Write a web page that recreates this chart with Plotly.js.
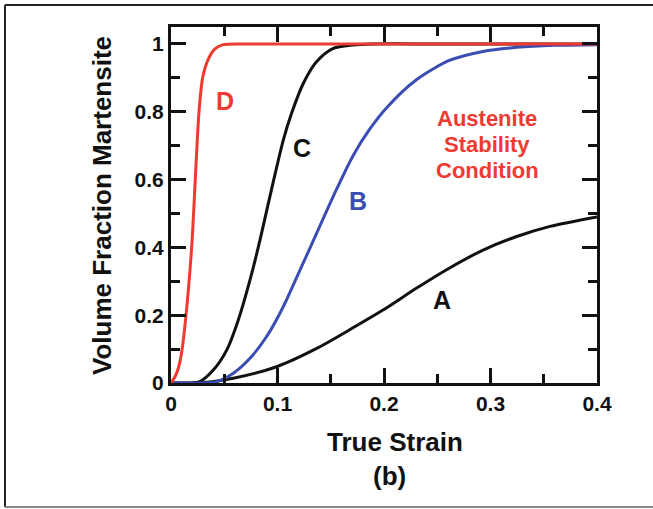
<!DOCTYPE html>
<html>
<head>
<meta charset="utf-8">
<script src="https://cdn.plot.ly/plotly-3.0.1.min.js"></script>
<style>html,body{margin:0;padding:0;background:#fff;}#chart{width:653px;height:509px;}</style>
</head>
<body>
<div id="chart"></div>
<script>
// Curve D (red)
var strainD = [0, 0.004, 0.007, 0.010, 0.0141, 0.0194, 0.0212, 0.0228, 0.0263, 0.0297, 0.0347, 0.041, 0.049, 0.07, 0.1, 0.2, 0.3, 0.4];
var fracD   = [0, 0.02, 0.045, 0.09, 0.2, 0.4, 0.5, 0.6, 0.8, 0.9, 0.953, 0.985, 0.998, 1, 1, 1, 1, 1];
// Curve C (black)
var strainC = [0, 0.015, 0.027, 0.0397, 0.0523, 0.0632, 0.0742, 0.0836, 0.0914, 0.1055, 0.1133, 0.1243, 0.1368, 0.1524, 0.171, 0.19, 0.25, 0.3, 0.4];
var fracC   = [0, 0.0, 0.004, 0.038, 0.097, 0.186, 0.304, 0.422, 0.53, 0.717, 0.796, 0.884, 0.948, 0.987, 0.997, 1, 1, 1, 1];
// Curve B (blue)
var strainB = [0, 0.03, 0.0429, 0.0585, 0.0742, 0.0898, 0.1054, 0.1211, 0.1368, 0.153, 0.1712, 0.1869, 0.2025, 0.2307, 0.262, 0.293, 0.3246, 0.36, 0.4];
var fracB   = [0, 0.0, 0.004, 0.029, 0.073, 0.137, 0.225, 0.333, 0.442, 0.555, 0.672, 0.75, 0.812, 0.895, 0.952, 0.978, 0.99, 0.996, 0.998];
// Curve A (black)
var strainA = [0, 0.027, 0.0585, 0.0992, 0.1368, 0.165, 0.199, 0.2307, 0.262, 0.293, 0.3246, 0.3559, 0.4];
var fracA   = [0, 0.0, 0.014, 0.048, 0.102, 0.152, 0.215, 0.28, 0.34, 0.392, 0.432, 0.462, 0.49];

var curveLabels = ['A', 'B', 'C', 'D'];
var xTickVals = [0, 0.1, 0.2, 0.3, 0.4];
var yTickVals = [0, 0.2, 0.4, 0.6, 0.8, 1];
var noteLines = ['Austenite', 'Stability', 'Condition'];

var RED = '#ee3a30', BLUE = '#3a4db2', BLACK = '#111111';
var FONT = 'Liberation Sans, Arial, Helvetica, sans-serif';

function tr(x, y, c) {
  return {x: x, y: y, type: 'scatter', mode: 'lines',
          line: {color: c, width: 3, shape: 'spline', smoothing: 0.8},
          hoverinfo: 'skip', showlegend: false, cliponaxis: true};
}
var data = [tr(strainA, fracA, BLACK), tr(strainC, fracC, BLACK), tr(strainB, fracB, BLUE), tr(strainD, fracD, RED)];

function lab(t, x, y, c, s) {
  return {text: t, x: x, y: y, xref: 'x', yref: 'y', showarrow: false,
          font: {family: FONT, size: s, color: c, weight: 'bold'}, xanchor: 'center', yanchor: 'middle'};
}
var ann = [
  lab(curveLabels[3], 0.0508, 0.833, RED, 25),
  lab(curveLabels[2], 0.1230, 0.693, BLACK, 25),
  lab(curveLabels[1], 0.1755, 0.538, BLUE, 25),
  lab(curveLabels[0], 0.2542, 0.245, BLACK, 25),
  lab(noteLines[0], 0.297, 0.779, RED, 22),
  lab(noteLines[1], 0.297, 0.702, RED, 22),
  lab(noteLines[2], 0.297, 0.628, RED, 22),
  {text: 'Volume Fraction Martensite', xref: 'paper', yref: 'paper', x: -0.162, y: 0.5, textangle: -90,
   showarrow: false, font: {family: FONT, size: 26, color: BLACK, weight: 'bold'}, xanchor: 'center', yanchor: 'middle'},
  {text: 'True Strain', xref: 'paper', yref: 'paper', x: 0.526, y: -0.165,
   showarrow: false, font: {family: FONT, size: 26, color: BLACK, weight: 'bold'}, xanchor: 'center', yanchor: 'middle'},
  {text: '(b)', xref: 'paper', yref: 'paper', x: 0.514, y: -0.261,
   showarrow: false, font: {family: FONT, size: 26, color: BLACK, weight: 'bold'}, xanchor: 'center', yanchor: 'middle'}
];

var axisCommon = {
  showline: true, linewidth: 3, linecolor: BLACK, mirror: 'ticks',
  ticks: 'inside', ticklen: 15, tickwidth: 3, tickcolor: BLACK,
  showgrid: false, zeroline: false, fixedrange: true,
  tickfont: {family: FONT, size: 21, color: BLACK, weight: 'bold'}
};
var layout = {
  width: 653, height: 509,
  margin: {l: 171, r: 56, t: 27, b: 126},
  paper_bgcolor: '#ffffff', plot_bgcolor: '#ffffff',
  xaxis: Object.assign({}, axisCommon, {range: [0, 0.4], tickvals: xTickVals, ticktext: xTickVals.map(String),
    minor: {dtick: 0.05, ticks: 'inside', ticklen: 9, tickwidth: 3, tickcolor: BLACK, showgrid: false}}),
  yaxis: Object.assign({}, axisCommon, {range: [0, 1.05], tickvals: yTickVals, ticktext: yTickVals.map(String),
    minor: {dtick: 0.1, ticks: 'inside', ticklen: 9, tickwidth: 3, tickcolor: BLACK, showgrid: false}}),
  annotations: ann,
  shapes: [
    {type: 'line', xref: 'paper', yref: 'paper', x0: -0.3897, x1: -0.3897, y0: 1.0618, y1: -0.3483, line: {color: '#222', width: 2}},
    {type: 'line', xref: 'paper', yref: 'paper', x0: -0.3897, x1: 1.14, y0: 1.0618, y1: 1.0618, line: {color: '#222', width: 2}},
    {type: 'line', xref: 'paper', yref: 'paper', x0: -0.3897, x1: 1.14, y0: -0.3483, y1: -0.3483, line: {color: '#888', width: 2}}
  ]
};
Plotly.newPlot('chart', data, layout, {displayModeBar: false, staticPlot: true});
</script>
</body>
</html>
